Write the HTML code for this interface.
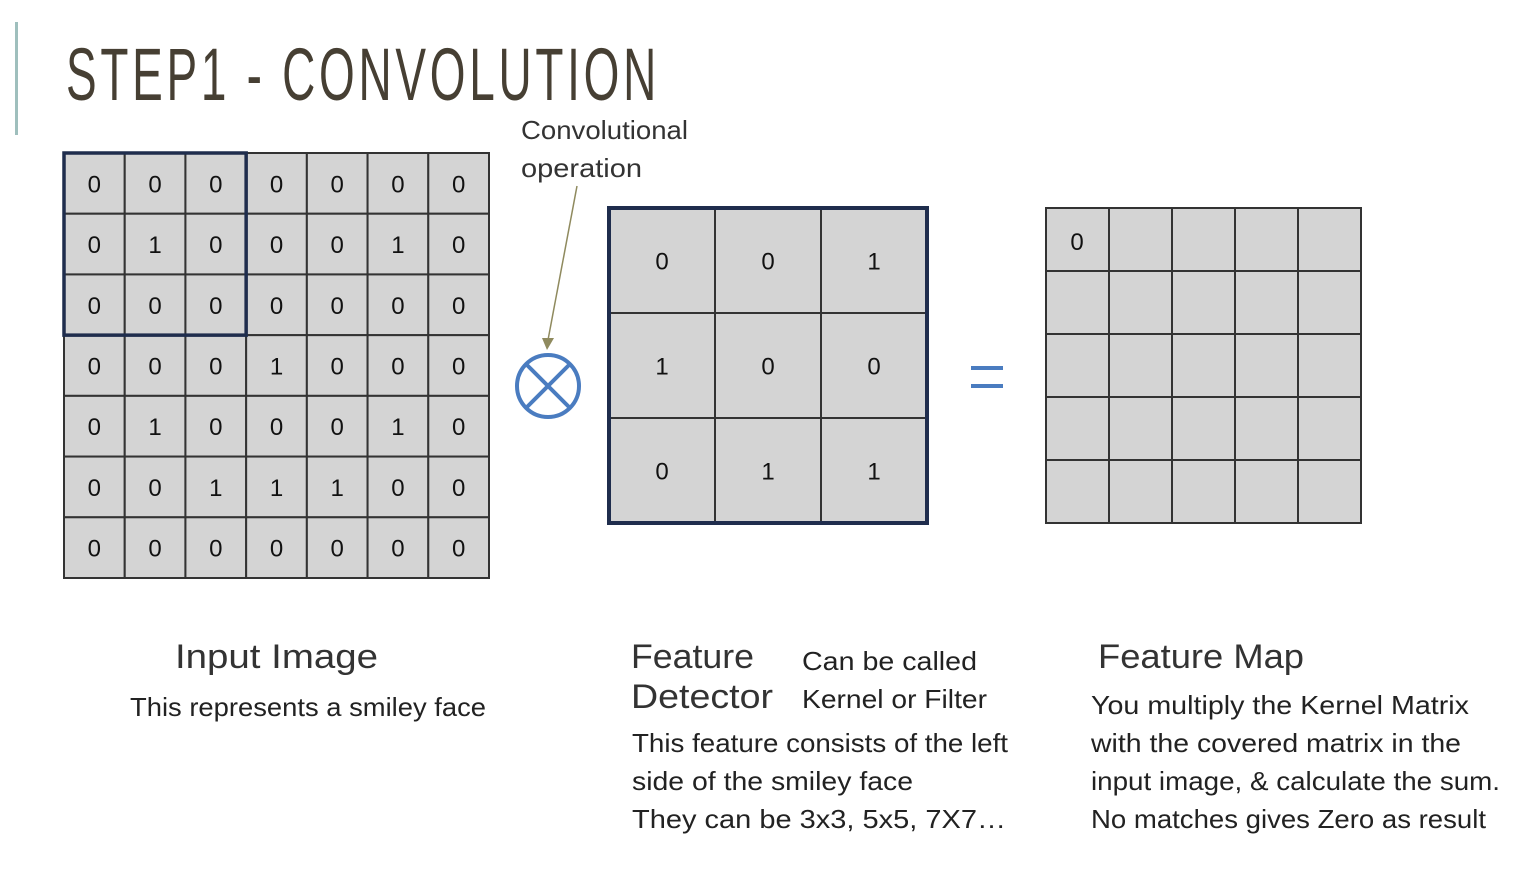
<!DOCTYPE html>
<html><head><meta charset="utf-8"><style>
html,body{margin:0;padding:0;background:#fff;}
svg{display:block;font-family:"Liberation Sans",sans-serif;}
</style></head><body>
<svg id="s" width="1513" height="877" viewBox="0 0 1513 877">
<rect x="15" y="22" width="3" height="113" fill="#9fbfbd"/>
<text x="66" y="100" font-size="74" fill="#463f33" letter-spacing="6" textLength="594" lengthAdjust="spacingAndGlyphs">STEP1 - CONVOLUTION</text>
<text x="521" y="139" font-size="26" fill="#333" textLength="167" lengthAdjust="spacingAndGlyphs">Convolutional</text>
<text x="521" y="177" font-size="26" fill="#333" textLength="121" lengthAdjust="spacingAndGlyphs">operation</text>
<line x1="577" y1="186" x2="548" y2="340" stroke="#8f8a5e" stroke-width="1.5"/>
<polygon points="542,338 554,338 547,350" fill="#8f8a5e"/>
<g stroke="#4a7cc0" stroke-width="4" fill="none">
<circle cx="548" cy="386" r="31"/>
<line x1="527" y1="365" x2="569" y2="407"/><line x1="569" y1="365" x2="527" y2="407"/>
</g>
<g stroke="#4a7cc0" stroke-width="4">
<line x1="971" y1="368" x2="1003" y2="368"/><line x1="971" y1="386" x2="1003" y2="386"/>
</g>
<g id="grids"></g>
<g font-size="34" fill="#333">
<text x="175" y="668" textLength="203" lengthAdjust="spacingAndGlyphs">Input Image</text>
<text x="631" y="668" textLength="123" lengthAdjust="spacingAndGlyphs">Feature</text>
<text x="631" y="708" textLength="142" lengthAdjust="spacingAndGlyphs">Detector</text>
<text x="1098" y="668" textLength="206" lengthAdjust="spacingAndGlyphs">Feature Map</text>
</g>
<g font-size="26" fill="#222">
<text x="130" y="716" textLength="356" lengthAdjust="spacingAndGlyphs">This represents a smiley face</text>
<text x="802" y="670" textLength="175" lengthAdjust="spacingAndGlyphs">Can be called</text>
<text x="802" y="708" textLength="185" lengthAdjust="spacingAndGlyphs">Kernel or Filter</text>
<text x="632" y="752" textLength="376" lengthAdjust="spacingAndGlyphs">This feature consists of the left</text>
<text x="632" y="790" textLength="281" lengthAdjust="spacingAndGlyphs">side of the smiley face</text>
<text x="632" y="828" textLength="374" lengthAdjust="spacingAndGlyphs">They can be 3x3, 5x5, 7X7…</text>
<text x="1091" y="714" textLength="378" lengthAdjust="spacingAndGlyphs">You multiply the Kernel Matrix</text>
<text x="1091" y="752" textLength="370" lengthAdjust="spacingAndGlyphs">with the covered matrix in the</text>
<text x="1091" y="790" textLength="409" lengthAdjust="spacingAndGlyphs">input image, &amp; calculate the sum.</text>
<text x="1091" y="828" textLength="395" lengthAdjust="spacingAndGlyphs">No matches gives Zero as result</text>
</g>
</svg>
<script>
const inputMatrix=[[0,0,0,0,0,0,0],[0,1,0,0,0,1,0],[0,0,0,0,0,0,0],[0,0,0,1,0,0,0],[0,1,0,0,0,1,0],[0,0,1,1,1,0,0],[0,0,0,0,0,0,0]];
const kernelMatrix=[[0,0,1],[1,0,0],[0,1,1]];
const featureMap=[[0,null,null,null,null],[null,null,null,null,null],[null,null,null,null,null],[null,null,null,null,null],[null,null,null,null,null]];
const NS="http://www.w3.org/2000/svg";
const G=document.getElementById('grids');
function mk(t,a){const e=document.createElementNS(NS,t);for(const k in a)e.setAttribute(k,a[k]);return e;}
function grid(m,x0,y0,w,h,name,centered,border){
  const rows=m.length,cols=m[0].length,cw=w/cols,ch=h/rows;
  const g=mk('g',{});
  
  
  m.forEach((row,r)=>row.forEach((v,c)=>{
    const rc=mk('rect',{x:x0+c*cw,y:y0+r*ch,width:cw,height:ch,fill:'#d4d4d4',stroke:'#333','stroke-width':2});
    
    
    g.appendChild(rc);
    if(v!==null){
      const tx=mk('text',{x:centered?x0+c*cw+cw/2:x0+c*cw+31,y:centered?y0+r*ch+ch/2+9:y0+r*ch+42,'font-size':24,fill:'#111','text-anchor':'middle'});
      tx.textContent=v;
      
      
      g.appendChild(tx);
    }
  }));
  if(border){
    const b=mk('rect',{x:x0,y:y0,width:w,height:h,fill:'none',stroke:'#1f2d4d','stroke-width':4});
    
    
    g.appendChild(b);
  }
  G.appendChild(g);
  return {cw,ch};
}
const ig=grid(inputMatrix,64,153,425,425,'input-image-grid',true,false);
const hl=mk('rect',{x:64,y:153,width:ig.cw*kernelMatrix.length,height:ig.ch*kernelMatrix.length,fill:'none',stroke:'#1f2d4d','stroke-width':3.5});


G.appendChild(hl);
grid(kernelMatrix,609,208,318,315,'feature-detector-grid',true,true);
grid(featureMap,1046,208,315,315,'feature-map-grid',false,false);
</script>
</body></html>
